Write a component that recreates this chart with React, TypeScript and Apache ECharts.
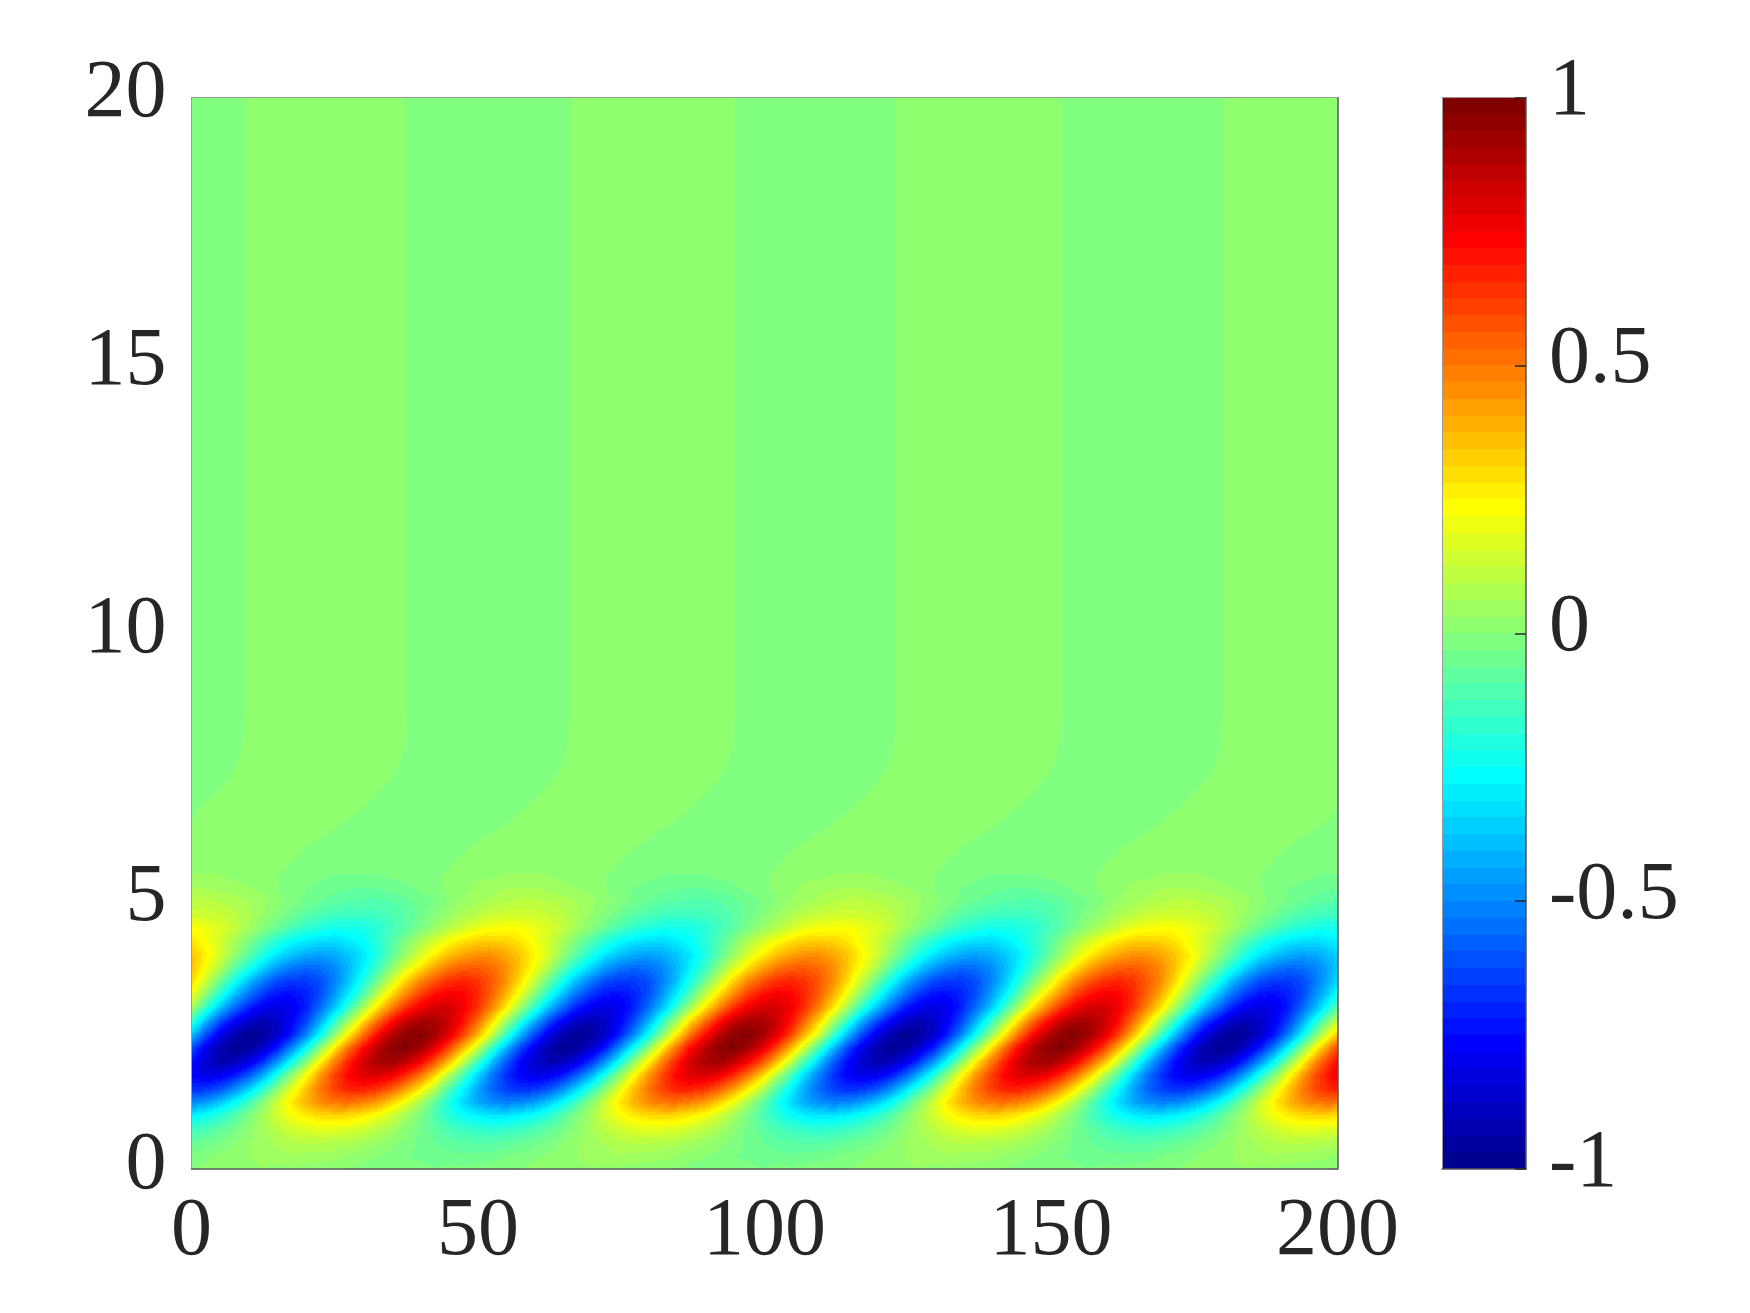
import React, { useEffect, useRef } from "react";
import * as echarts from "echarts";

const xTicks = [0, 50, 100, 150, 200];
const yTicks = [0, 5, 10, 15, 20];
const barTicks = [-1, -0.5, 0, 0.5, 1];
const nodeStepX = 2.487;
const nodeStepY = 0.25;

// Field values in hundredths at grid nodes: one row per 0.25 of y from y = 0
const r00 = [0,1,2,2,2,3,2,2,2,1,1,0,-1,-1,-2,-2,-2,-3,-2,-2,-2,-1,0,0,1,2,2,2,3,2,2,2,1,1,0,-1,-1,-2,-2,-2,-3,-2,-2,-2,-1,0,0,1,2,2,2,3,2,2,2,1,1,0,-1,-1,-2,-2,-2,-3,-2,-2,-2,-1,0,0,1,2,2,2,3,2,2,2,1,1,0,-1];
const r01 = [-2,-1,1,2,3,5,5,6,5,5,4,3,1,0,-1,-3,-4,-5,-5,-6,-5,-5,-3,-2,-1,1,2,3,5,5,6,5,5,4,3,1,0,-1,-3,-4,-5,-5,-6,-5,-5,-3,-2,-1,1,2,3,5,5,6,5,5,4,3,1,0,-1,-3,-4,-5,-5,-6,-5,-5,-3,-2,-1,1,2,3,5,5,6,5,5,4,3,1];
const r02 = [-7,-5,-3,0,3,5,7,9,10,10,9,8,6,4,1,-1,-4,-6,-8,-9,-10,-10,-9,-7,-5,-3,0,3,5,7,9,10,10,9,8,6,4,1,-1,-4,-6,-8,-9,-10,-10,-9,-7,-5,-3,0,3,5,7,9,10,10,9,8,6,4,1,-1,-4,-6,-8,-9,-10,-10,-9,-7,-5,-3,0,3,5,7,9,10,10,9,8,6];
const r03 = [-15,-12,-8,-4,1,6,10,14,17,18,18,17,14,10,6,1,-4,-8,-12,-15,-17,-18,-17,-15,-12,-8,-4,1,6,10,14,17,18,18,17,14,10,6,1,-4,-8,-12,-15,-17,-18,-17,-15,-12,-8,-4,1,6,10,14,17,18,18,17,14,10,6,1,-4,-8,-12,-15,-17,-18,-17,-15,-12,-8,-4,1,6,10,14,17,18,18,17,14];
const r04 = [-29,-25,-19,-11,-2,6,15,22,27,31,32,31,27,22,15,6,-2,-11,-19,-25,-29,-32,-32,-29,-25,-19,-11,-2,6,15,22,27,31,32,31,27,22,15,6,-2,-11,-19,-25,-29,-32,-32,-29,-25,-19,-11,-2,6,15,22,27,31,32,31,27,22,15,6,-2,-11,-19,-25,-29,-32,-32,-29,-25,-19,-11,-2,6,15,22,27,31,32,31,27];
const r05 = [-51,-46,-38,-27,-14,0,14,27,38,46,51,52,49,43,33,21,7,-7,-21,-33,-43,-49,-52,-51,-46,-38,-27,-14,0,14,27,38,46,51,52,49,43,33,21,7,-7,-21,-33,-43,-49,-52,-51,-46,-38,-27,-14,0,14,27,38,46,51,52,49,43,33,21,7,-7,-21,-33,-43,-49,-52,-51,-46,-38,-27,-14,0,14,27,38,46,51,52,49];
const r06 = [-68,-67,-61,-50,-35,-18,0,18,35,50,61,67,68,64,56,43,27,10,-10,-27,-43,-56,-64,-68,-67,-61,-50,-35,-18,0,18,35,50,61,67,68,64,56,43,27,10,-10,-27,-43,-56,-64,-68,-67,-61,-50,-35,-18,0,18,35,50,61,67,68,64,56,43,27,10,-10,-27,-43,-56,-64,-68,-67,-61,-50,-35,-18,0,18,35,50,61,67,68];
const r07 = [-77,-82,-80,-73,-60,-43,-22,0,22,43,60,73,80,82,77,67,52,33,11,-11,-33,-52,-67,-77,-82,-80,-73,-60,-43,-22,0,22,43,60,73,80,82,77,67,52,33,11,-11,-33,-52,-67,-77,-82,-80,-73,-60,-43,-22,0,22,43,60,73,80,82,77,67,52,33,11,-11,-33,-52,-67,-77,-82,-80,-73,-60,-43,-22,0,22,43,60,73,80];
const r08 = [-75,-86,-92,-90,-82,-67,-48,-25,0,25,48,67,82,90,92,86,75,58,37,13,-13,-37,-58,-75,-86,-92,-90,-82,-67,-48,-25,0,25,48,67,82,90,92,86,75,58,37,13,-13,-37,-58,-75,-86,-92,-90,-82,-67,-48,-25,0,25,48,67,82,90,92,86,75,58,37,13,-13,-37,-58,-75,-86,-92,-90,-82,-67,-48,-25,0,25,48,67,82];
const r09 = [-62,-80,-92,-98,-96,-87,-72,-51,-26,0,26,51,72,87,96,98,92,80,62,39,14,-14,-39,-62,-80,-92,-98,-96,-87,-72,-51,-26,0,26,51,72,87,96,98,92,80,62,39,14,-14,-39,-62,-80,-92,-98,-96,-87,-72,-51,-26,0,26,51,72,87,96,98,92,80,62,39,14,-14,-39,-62,-80,-92,-98,-96,-87,-72,-51,-26,0,26,51,72];
const r10 = [-39,-62,-80,-92,-98,-96,-87,-72,-51,-26,0,26,51,72,87,96,98,92,80,62,39,14,-14,-39,-62,-80,-92,-98,-96,-87,-72,-51,-26,0,26,51,72,87,96,98,92,80,62,39,14,-14,-39,-62,-80,-92,-98,-96,-87,-72,-51,-26,0,26,51,72,87,96,98,92,80,62,39,14,-14,-39,-62,-80,-92,-98,-96,-87,-72,-51,-26,0,26,51];
const r11 = [-18,-42,-63,-78,-88,-92,-88,-78,-63,-42,-18,6,31,53,72,85,91,91,85,72,53,31,6,-18,-42,-63,-78,-88,-92,-88,-78,-63,-42,-18,6,31,53,72,85,91,91,85,72,53,31,6,-18,-42,-63,-78,-88,-92,-88,-78,-63,-42,-18,6,31,53,72,85,91,91,85,72,53,31,6,-18,-42,-63,-78,-88,-92,-88,-78,-63,-42,-18,6,31];
const r12 = [6,-17,-38,-56,-71,-80,-83,-80,-71,-56,-38,-17,6,28,48,65,76,82,82,76,65,48,28,6,-17,-38,-56,-71,-80,-83,-80,-71,-56,-38,-17,6,28,48,65,76,82,82,76,65,48,28,6,-17,-38,-56,-71,-80,-83,-80,-71,-56,-38,-17,6,28,48,65,76,82,82,76,65,48,28,6,-17,-38,-56,-71,-80,-83,-80,-71,-56,-38,-17,6];
const r13 = [20,0,-20,-39,-55,-67,-74,-75,-71,-62,-47,-30,-11,11,30,47,62,71,75,74,67,55,39,20,0,-20,-39,-55,-67,-74,-75,-71,-62,-47,-30,-11,11,30,47,62,71,75,74,67,55,39,20,0,-20,-39,-55,-67,-74,-75,-71,-62,-47,-30,-11,11,30,47,62,71,75,74,67,55,39,20,0,-20,-39,-55,-67,-74,-75,-71,-62,-47,-30,-11];
const r14 = [31,13,-5,-22,-39,-52,-62,-66,-66,-62,-52,-39,-22,-5,13,31,46,57,64,67,64,57,46,31,13,-5,-22,-39,-52,-62,-66,-66,-62,-52,-39,-22,-5,13,31,46,57,64,67,64,57,46,31,13,-5,-22,-39,-52,-62,-66,-66,-62,-52,-39,-22,-5,13,31,46,57,64,67,64,57,46,31,13,-5,-22,-39,-52,-62,-66,-66,-62,-52,-39,-22];
const r15 = [35,22,8,-8,-22,-35,-46,-53,-56,-55,-50,-41,-29,-15,0,15,29,41,50,55,56,53,46,35,22,8,-8,-22,-35,-46,-53,-56,-55,-50,-41,-29,-15,0,15,29,41,50,55,56,53,46,35,22,8,-8,-22,-35,-46,-53,-56,-55,-50,-41,-29,-15,0,15,29,41,50,55,56,53,46,35,22,8,-8,-22,-35,-46,-53,-56,-55,-50,-41,-29];
const r16 = [35,26,15,3,-9,-21,-31,-38,-43,-45,-43,-38,-31,-21,-9,3,15,26,35,41,45,45,41,35,26,15,3,-9,-21,-31,-38,-43,-45,-43,-38,-31,-21,-9,3,15,26,35,41,45,45,41,35,26,15,3,-9,-21,-31,-38,-43,-45,-43,-38,-31,-21,-9,3,15,26,35,41,45,45,41,35,26,15,3,-9,-21,-31,-38,-43,-45,-43,-38,-31];
const r17 = [28,22,15,7,-2,-11,-19,-26,-30,-33,-33,-30,-26,-19,-11,-2,7,15,22,28,32,33,32,28,22,15,7,-2,-11,-19,-26,-30,-33,-33,-30,-26,-19,-11,-2,7,15,22,28,32,33,32,28,22,15,7,-2,-11,-19,-26,-30,-33,-33,-30,-26,-19,-11,-2,7,15,22,28,32,33,32,28,22,15,7,-2,-11,-19,-26,-30,-33,-33,-30,-26];
const r18 = [23,20,17,12,6,0,-6,-12,-17,-20,-23,-23,-22,-19,-14,-9,-3,3,9,14,19,22,23,23,20,17,12,6,0,-6,-12,-17,-20,-23,-23,-22,-19,-14,-9,-3,3,9,14,19,22,23,23,20,17,12,6,0,-6,-12,-17,-20,-23,-23,-22,-19,-14,-9,-3,3,9,14,19,22,23,23,20,17,12,6,0,-6,-12,-17,-20,-23,-23,-22];
const r19 = [15,14,13,10,7,3,-1,-5,-9,-12,-14,-15,-15,-14,-12,-9,-5,-1,3,7,10,13,14,15,14,13,10,7,3,-1,-5,-9,-12,-14,-15,-15,-14,-12,-9,-5,-1,3,7,10,13,14,15,14,13,10,7,3,-1,-5,-9,-12,-14,-15,-15,-14,-12,-9,-5,-1,3,7,10,13,14,15,14,13,10,7,3,-1,-5,-9,-12,-14,-15,-15,-14];
const r20 = [10,10,9,8,6,4,1,-1,-4,-6,-8,-9,-10,-10,-9,-7,-5,-3,0,3,5,7,9,10,10,9,8,6,4,1,-1,-4,-6,-8,-9,-10,-10,-9,-7,-5,-3,0,3,5,7,9,10,10,9,8,6,4,1,-1,-4,-6,-8,-9,-10,-10,-9,-7,-5,-3,0,3,5,7,9,10,10,9,8,6,4,1,-1,-4,-6,-8,-9,-10];
const r21 = [6,6,5,4,3,2,0,-2,-3,-4,-5,-6,-6,-6,-5,-4,-2,-1,1,2,4,5,6,6,6,5,4,3,2,0,-2,-3,-4,-5,-6,-6,-6,-5,-4,-2,-1,1,2,4,5,6,6,6,5,4,3,2,0,-2,-3,-4,-5,-6,-6,-6,-5,-4,-2,-1,1,2,4,5,6,6,6,5,4,3,2,0,-2,-3,-4,-5,-6,-6];
const r22 = [3,3,3,2,2,1,0,-1,-2,-2,-3,-3,-3,-3,-2,-2,-1,0,0,1,2,2,3,3,3,3,2,2,1,0,-1,-2,-2,-3,-3,-3,-3,-2,-2,-1,0,0,1,2,2,3,3,3,3,2,2,1,0,-1,-2,-2,-3,-3,-3,-3,-2,-2,-1,0,0,1,2,2,3,3,3,3,2,2,1,0,-1,-2,-2,-3,-3,-3];
const fieldRows = [r00,r01,r02,r03,r04,r05,r06,r07,r08,r09,r10,r11,r12,r13,r14,r15,r16,r17,r18,r19,r20,r21,r22];

// Upper region has two levels only; these are the x positions where the level flips, at each listed y
const stripeY = [5.5, 5.75, 6, 6.25, 6.5, 6.75, 7, 7.25, 7.5, 7.75, 8, 8.5, 20];
const stripeEdges = [
  [-12.7,15.4,44,72.8,101,129.7,158,186.6],
  [-10.7,17.4,46,74.8,103,131.7,160,188.6],
  [-8.2,19.9,48.5,77.3,105.5,134.2,162.5,191.1],
  [-4.7,23.4,52,80.8,109,137.7,166,194.6],
  [-1.1,27,55.6,84.4,112.6,141.3,169.6,198.2],
  [1.7,29.8,58.4,87.2,115.4,144.1,172.4,201],
  [4.1,32.2,60.8,89.6,117.8,146.5,174.8,203.4],
  [6.3,34.4,63,91.8,120,148.7,177,205.6],
  [7.8,35.9,64.5,93.3,121.5,150.2,178.5,207.1],
  [8.6,36.7,65.3,94.1,122.3,151,179.3,207.9],
  [9,37.1,65.7,94.5,122.7,151.4,179.7,208.3],
  [9.3,37.4,66,94.8,123,151.7,180,208.6],
  [9.3,37.4,66,94.8,123,151.7,180,208.6],
];
const stripeCool = -0.02;
const stripeWarm = 0.02;

function level(v: number) {
  return Math.min(63, Math.max(0, Math.floor(((v + 1) / 2) * 64)));
}
function jetRow(idx: number) {
  const i = idx + 1;
  const r = i <= 24 ? 0 : i <= 40 ? (i - 24) / 16 : i <= 56 ? 1 : 1 - (i - 56) / 16;
  const g = i <= 8 ? 0 : i <= 24 ? (i - 8) / 16 : i <= 40 ? 1 : i <= 56 ? 1 - (i - 40) / 16 : 0;
  const b = i <= 8 ? 0.5 + i / 16 : i <= 24 ? 1 : i <= 40 ? 1 - (i - 24) / 16 : 0;
  const h = (c: number) => Math.round(c * 255);
  return `rgb(${h(r)},${h(g)},${h(b)})`;
}

const nodeData: number[][] = [];
for (let j = 0; j < fieldRows.length - 1; j++) {
  const row = fieldRows[j];
  for (let i = 0; i < row.length - 1 && i < fieldRows[j + 1].length - 1; i++) {
    if (i * nodeStepX < 200) nodeData.push([i, j, row[i]]);
  }
}

// contourf-style drawing of one grid patch: colour level of the field between its four corner nodes
const patchItem = (_p: any, api: any) => {
  const i = api.value(0);
  const j = api.value(1);
  const a = api.coord([i * nodeStepX, j * nodeStepY]);
  const b = api.coord([(i + 1) * nodeStepX, (j + 1) * nodeStepY]);
  const x0 = Math.round(a[0]);
  const x1 = Math.round(b[0]);
  const yBottom = Math.round(a[1]);
  const yTop = Math.round(b[1]);
  const v00 = fieldRows[j][i] / 100;
  const v10 = fieldRows[j][i + 1] / 100;
  const v01 = fieldRows[j + 1][i] / 100;
  const v11 = fieldRows[j + 1][i + 1] / 100;
  const children: any[] = [];
  for (let py = yTop; py < yBottom; py += 2) {
    const h = Math.min(2, yBottom - py);
    const t = (yBottom - (py + h / 2)) / (yBottom - yTop);
    const left = v00 + (v01 - v00) * t;
    const right = v10 + (v11 - v10) * t;
    let runStart = x0;
    let runLevel = level(left + ((right - left) * 0.5) / (x1 - x0));
    for (let px = x0 + 1; px <= x1; px++) {
      const l = px < x1 ? level(left + ((right - left) * (px - x0 + 0.5)) / (x1 - x0)) : -1;
      if (l !== runLevel) {
        children.push({ type: "rect", shape: { x: runStart, y: py, width: px - runStart, height: h }, style: { fill: jetRow(runLevel) } });
        runStart = px;
        runLevel = l;
      }
    }
  }
  return { type: "group", children };
};

const stripeData: number[][] = [];
stripeY.slice(0, -1).forEach((_, b) => {
  for (let k = 0; k < stripeEdges[b].length; k += 2) stripeData.push([b, k]);
});
const stripeItem = (_p: any, api: any) => {
  const b = api.value(0);
  const k = api.value(1);
  const c = (x: number) => Math.min(200, Math.max(0, x));
  const pts = [
    api.coord([c(stripeEdges[b][k]), stripeY[b]]),
    api.coord([c(stripeEdges[b][k + 1]), stripeY[b]]),
    api.coord([c(stripeEdges[b + 1][k + 1]), stripeY[b + 1]]),
    api.coord([c(stripeEdges[b + 1][k]), stripeY[b + 1]]),
  ];
  const fill = jetRow(level(stripeWarm));
  return { type: "polygon", shape: { points: pts }, style: { fill, stroke: fill, lineWidth: 0.6 } };
};
const stripeBackItem = (_p: any, api: any) => {
  const a = api.coord([0, stripeY[0]]);
  const b = api.coord([200, 20]);
  return { type: "rect", shape: { x: a[0], y: b[1], width: b[0] - a[0], height: a[1] - b[1] }, style: { fill: jetRow(level(stripeCool)) } };
};

const barLevels: number[] = [];
for (let k = 0; k < 64; k++) barLevels.push(k);
const barItem = (_p: any, api: any) => {
  const k = api.value(0);
  const a = api.coord([0, -1 + k / 32]);
  const b = api.coord([1, -1 + (k + 1) / 32]);
  const y0 = Math.round(a[1]);
  const y1 = Math.round(b[1]);
  return { type: "rect", shape: { x: a[0], y: y1, width: b[0] - a[0], height: y0 - y1 }, style: { fill: jetRow(k) } };
};

const font = "'Liberation Serif', serif";
const ink = "#262626";
const label = { fontFamily: font, fontSize: 82, color: ink };
const frameLow = { show: true, onZero: false, lineStyle: { color: "#555", width: 1.5 } };
const frameHigh = { show: true, onZero: false, lineStyle: { color: "#999", width: 1 } };
const off = { splitLine: { show: false }, axisTick: { show: false } };

export default function App() {
  const ref = useRef<HTMLDivElement>(null);
  useEffect(() => {
    const chart = echarts.init(ref.current!, undefined, { renderer: "svg" });
    chart.setOption({
      animation: false,
      backgroundColor: "#fff",
      grid: [
        { left: 191.5, top: 97.5, width: 1146, height: 1071.5 },
        { left: 1442, top: 97.5, width: 84, height: 1071.5 },
      ],
      xAxis: [
        { gridIndex: 0, type: "value", min: 0, max: 200, interval: 50, position: "bottom", z: 5, ...off, axisLine: frameLow, axisLabel: { ...label, margin: 16, formatter: (v: number) => (xTicks.includes(v) ? String(v) : "") } },
        { gridIndex: 0, type: "value", min: 0, max: 200, position: "top", z: 5, ...off, axisLine: frameHigh, axisLabel: { show: false } },
        { gridIndex: 1, type: "value", min: 0, max: 1, position: "bottom", z: 5, ...off, axisLine: frameLow, axisLabel: { show: false } },
        { gridIndex: 1, type: "value", min: 0, max: 1, position: "top", z: 5, ...off, axisLine: frameHigh, axisLabel: { show: false } },
      ],
      yAxis: [
        { gridIndex: 0, type: "value", min: 0, max: 20, interval: 5, position: "left", z: 5, ...off, axisLine: frameHigh, axisLabel: { ...label, margin: 25, verticalAlign: "bottom", lineHeight: 18, formatter: (v: number) => (yTicks.includes(v) ? String(v) : "") } },
        { gridIndex: 0, type: "value", min: 0, max: 20, position: "right", z: 5, ...off, axisLine: frameLow, axisLabel: { show: false } },
        { gridIndex: 1, type: "value", min: -1, max: 1, interval: 0.5, position: "right", z: 5, splitLine: { show: false }, axisTick: { show: true, inside: true, length: 11, lineStyle: { color: ink, width: 1.5 } }, axisLine: frameLow, axisLabel: { ...label, margin: 23, verticalAlign: "bottom", lineHeight: 22, formatter: (v: number) => (barTicks.includes(v) ? String(v) : "") } },
        { gridIndex: 1, type: "value", min: -1, max: 1, position: "left", z: 5, ...off, axisLine: frameHigh, axisLabel: { show: false } },
      ],
      series: [
        { type: "custom", xAxisIndex: 0, yAxisIndex: 0, z: 1, silent: true, clip: true, renderItem: stripeBackItem, data: [[0]] },
        { type: "custom", xAxisIndex: 0, yAxisIndex: 0, z: 2, silent: true, clip: true, renderItem: stripeItem, data: stripeData },
        { type: "custom", xAxisIndex: 0, yAxisIndex: 0, z: 3, silent: true, clip: true, renderItem: patchItem, data: nodeData },
        { type: "custom", xAxisIndex: 2, yAxisIndex: 2, z: 1, silent: true, renderItem: barItem, data: barLevels.map((k) => [k]) },
      ],
    });
    return () => chart.dispose();
  }, []);
  return <div ref={ref} style={{ position: "absolute", left: 0, top: 0, width: 1750, height: 1313 }} />;
}
